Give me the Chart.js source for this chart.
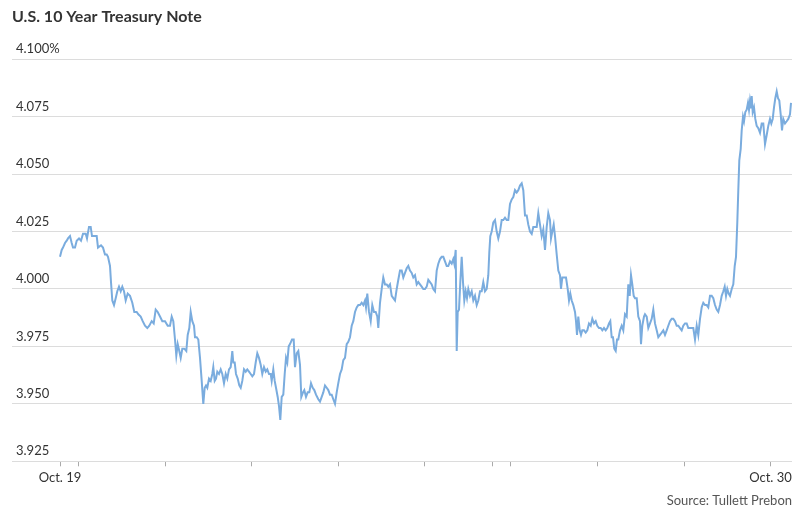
<!DOCTYPE html>
<html>
<head>
<meta charset="utf-8">
<script src="https://cdn.jsdelivr.net/npm/chart.js@4.4.0/dist/chart.umd.min.js"></script>
<style>
body{margin:0;background:#fff;}
#wrap{width:804px;height:513px;}
</style>
</head>
<body>
<div id="wrap"><canvas id="canvas" width="804" height="513"></canvas></div>
<script>
// elapsed time along the axis (chart time units) and the yield at each print
const times=[
0,1.7,3,5,6.7,8,10,11.7,13,15,16.7,19,21,23,25.7,27,29,30.7,32,35,36.7,38,41,43,45,46.7,48,50,51,52.3,54,55.7,57.3,59,60.7,62.3,64,65.7,67.7,70,72.3,74.3,76.7,78.3,80.7,82.7,85,87.3,89.3,91.7,93.7,95.7,97.7,100,102.3,105,107.7,110,111.7,113.3,115,116.3,117.7,119.3,120.7,122.3,124.3,126.3,127.7,129.3,130.7,132.3,134,135,136.7,138.3,140,141.7,143.3,
144.7,146,147.3,149,150.7,152.3,153.3,154.7,156,157.3,159,160.7,162.3,164,165.7,167.3,169,170.7,172.3,173.3,174.7,176,177.7,179.3,180.7,182.3,184,185.7,187.3,189,190.7,192.3,194,195.7,197.3,199,200.7,202.3,204,205.7,207.3,209,210.7,211.7,213.3,214.7,216,217.7,219,220.3,221.7,223.3,224.7,226,227.3,228.7,230,232,233.7,235,236.7,238.3,240,241.3,243,244.3,246,247.7,249.3,251,252.7,254.3,256,258.3,260,261.7,263.3,265,266.7,268.3,270,271.7,273.3,275,276.7,278.3,280,281.7,283.3,285,286.7,
288.3,290,291.7,293.3,295,296.7,298.3,300,301.7,303.3,305,306,307.3,309,310.7,312.3,314,315.7,317.3,318.3,320,321.7,323.3,325,326.7,328.3,330,331.7,333.3,335,336.7,338.3,340,341.7,343.3,345,346.7,348.3,350,351.7,353.3,355,356.7,358.3,360,361.7,363.3,365,366.7,368.3,370,371.7,373.3,375,376.7,378.3,380,381.7,383.3,385,386.7,388.3,390,391.7,393.3,394.3,395.7,396.7,397.7,399,400.3,401.7,403,404.3,405.7,407,408.3,410,411.7,413.3,415,416.7,418.3,420,421.7,423.3,425,426.7,428.3,429.3,430.3,431.7,433.3,435,
436.7,438.3,440,441.7,443.3,445,446.7,448.3,450,451.7,453.3,455,456.7,458.3,460,461.7,463.3,465,466.7,468.3,470,471.7,473.3,475,476.7,478.3,480,481.7,483.3,485,486.7,488.3,490,491,492.3,493.7,495,496.7,498.3,500,501,502.3,504,506,507.7,509,510.3,511.7,513.3,515,516,517,518.3,519.7,521,522.3,524,525.7,527.3,529,530.7,532.3,534,535.7,537.3,539,540.7,542.3,544,545.7,547.3,549,550.3,551.7,553,554.3,555.7,557,558.3,560,561.7,563.3,565,566.7,568.3,569.7,571,572.3,573.7,575,576.7,578.3,580,581,582.3,584,
585,586.7,588.3,590,591.7,593.3,595,596.7,598.3,600,601.7,603.3,605,606.7,608.3,610,611.7,613.3,615,616.7,618.3,620,621.7,623.3,625,626.7,628.3,630,631.7,633.3,635,636.7,638.3,640,641.7,643.3,645,646.7,648.3,650,651.7,653.3,655,656.7,658.3,660,661.7,663.3,664.7,666,667.3,668.7,670,671.7,673.3,674.7,676,677.3,678.3,679.3,680.7,681.7,683,684,685.3,686.7,688,689,690,691,691.7,692.7,694,695.3,696.7,698.3,700,701.7,703.3,705,706.7,708.3,710,711.3,712.7,714,715.3,716.7,718,719.3,720.7,722,723.3,725,726.7,728.3,730,731
];
const yields=[
4.014,4.017,4.018,4.020,4.021,4.022,4.023,4.020,4.018,4.018,4.021,4.022,4.021,4.024,4.024,4.022,4.027,4.027,4.023,4.023,4.023,4.018,4.019,4.018,4.015,4.015,4.014,4.010,4.003,3.995,3.993,3.996,3.999,4.001,3.999,4.001,3.999,3.995,3.998,3.997,3.994,3.990,3.990,3.989,3.988,3.986,3.984,3.983,3.984,3.986,3.985,3.991,3.990,3.988,3.986,3.986,3.984,3.984,3.988,3.986,3.978,3.971,3.976,3.973,3.970,3.974,3.974,3.973,3.980,3.983,3.990,3.986,3.984,3.979,3.979,3.978,3.970,3.960,3.950,
3.957,3.958,3.957,3.961,3.960,3.963,3.966,3.960,3.961,3.964,3.963,3.965,3.963,3.959,3.963,3.961,3.965,3.966,3.973,3.968,3.968,3.963,3.961,3.958,3.957,3.960,3.965,3.964,3.965,3.964,3.963,3.962,3.963,3.968,3.972,3.970,3.967,3.963,3.966,3.964,3.965,3.963,3.963,3.960,3.965,3.960,3.957,3.953,3.949,3.943,3.953,3.954,3.963,3.970,3.968,3.975,3.976,3.978,3.978,3.966,3.972,3.973,3.967,3.953,3.955,3.956,3.953,3.955,3.955,3.959,3.957,3.956,3.954,3.952,3.951,3.953,3.955,3.958,3.957,3.956,3.954,3.954,3.952,3.950,3.955,3.959,3.963,3.965,3.969,3.970,3.976,
3.977,3.979,3.984,3.986,3.990,3.992,3.993,3.993,3.994,3.993,3.995,3.992,3.998,3.990,3.986,3.993,3.990,3.990,3.988,3.983,3.994,4.000,4.005,4.002,4.002,4.001,4.002,3.997,3.996,3.995,4.000,4.004,4.008,4.008,4.005,4.007,4.009,4.010,4.008,4.007,4.005,4.006,4.002,4.003,4.002,4.001,4.000,4.000,4.001,4.004,4.003,4.002,4.000,3.999,4.008,4.011,4.013,4.014,4.014,4.012,4.010,4.010,4.012,4.011,4.013,4.011,4.017,3.973,3.990,3.991,4.003,4.014,4.003,3.995,3.999,3.996,4.000,3.997,3.999,3.995,3.997,3.993,3.995,3.999,3.999,4.003,3.999,4.000,4.006,4.016,4.023,4.025,4.029,4.030,
4.025,4.022,4.025,4.030,4.030,4.031,4.030,4.030,4.037,4.039,4.040,4.043,4.042,4.043,4.045,4.046,4.043,4.032,4.032,4.028,4.025,4.024,4.027,4.027,4.027,4.033,4.028,4.023,4.026,4.017,4.027,4.033,4.030,4.022,4.025,4.028,4.023,4.015,4.008,4.006,4.000,4.005,4.005,4.005,4.000,3.995,3.998,3.995,3.993,3.990,3.986,3.980,3.988,3.982,3.980,3.982,3.982,3.981,3.982,3.985,3.984,3.987,3.985,3.986,3.984,3.983,3.983,3.982,3.983,3.982,3.983,3.985,3.986,3.979,3.979,3.974,3.973,3.978,3.978,3.982,3.984,3.982,3.989,3.988,4.002,3.997,4.006,4.002,3.997,3.996,3.996,3.988,3.986,3.976,3.984,3.988,
3.989,3.988,3.983,3.985,3.987,3.991,3.985,3.982,3.979,3.980,3.981,3.982,3.980,3.982,3.984,3.986,3.987,3.987,3.986,3.984,3.984,3.983,3.982,3.984,3.985,3.985,3.983,3.983,3.983,3.983,3.978,3.984,3.980,3.987,3.992,3.994,3.993,3.993,3.992,3.997,3.997,3.996,3.993,3.991,3.990,3.993,3.997,3.999,4.001,3.997,4.000,3.998,3.997,4.000,4.002,4.010,4.014,4.029,4.043,4.056,4.061,4.069,4.075,4.073,4.077,4.078,4.081,4.078,4.082,4.079,4.084,4.077,4.079,4.074,4.071,4.070,4.068,4.072,4.072,4.063,4.067,4.071,4.074,4.072,4.074,4.079,4.083,4.086,4.083,4.082,4.076,4.069,4.074,4.072,4.073,4.074,4.076,4.081
];
// axis marks
const tickTimes=[0,18.5,105,191.5,278,364.5,432,451,537.5,624,710.5];
const tickLabels=["Oct. 19","","","","","","","","","","Oct. 30"];
const yTicks=[3.925,3.950,3.975,4.000,4.025,4.050,4.075,4.100];

Chart.defaults.font.family="Lato";
Chart.defaults.color="#333";

const ctx=document.getElementById("canvas");
new Chart(ctx,{
    type:"line",
    data:{
        datasets:[{
            label:"U.S. 10 Year Treasury Note",
            data:times.map((t,i)=>({x:t,y:yields[i]})),
            borderColor:"#7aacde",
            borderWidth:2,
            pointRadius:0,
            tension:0,
            fill:false
        }]
    },
    options:{
        responsive:false,
        animation:false,
        layout:{
            padding:{left:12,right:12,top:0,bottom:0}
        },
        plugins:{
            legend:{display:false},
            tooltip:{enabled:false},
            title:{
                display:true,
                text:"U.S. 10 Year Treasury Note",
                align:"start",
                color:"#333",
                font:{size:16,weight:"bold"},
                padding:{top:7,bottom:33}
            },
            subtitle:{
                display:true,
                position:"bottom",
                text:"Source: Tullett Prebon",
                align:"end",
                color:"#555",
                font:{size:13},
                padding:{top:3.5,bottom:4}
            }
        },
        scales:{
            x:{
                type:"linear",
                min:-48,
                max:732,
                border:{display:false},
                grid:{
                    drawOnChartArea:false,
                    drawTicks:true,
                    tickLength:5,
                    tickColor:"#aaa"
                },
                afterBuildTicks:s=>{
                    s.ticks=tickTimes.map(v=>({value:v}));
                },
                afterFit:s=>{
                    s.paddingLeft=0;
                    s.paddingRight=0;
                },
                ticks:{
                    autoSkip:false,
                    maxRotation:0,
                    padding:4,
                    font:{size:13},
                    color:"#333",
                    callback:(v,i)=>tickLabels[i]
                }
            },
            y:{
                min:3.925,
                max:4.100,
                border:{display:false},
                grid:{
                    color:"#dcdcdc",
                    drawTicks:false
                },
                afterBuildTicks:s=>{
                    s.ticks=yTicks.map(v=>({value:v}));
                },
                afterFit:s=>{
                    s.width=0;
                    s.paddingTop=0;
                    s.paddingBottom=0;
                },
                ticks:{
                    mirror:true,
                    padding:4,
                    labelOffset:-10,
                    font:{size:13},
                    color:"#333",
                    callback:v=>Math.abs(v-4.1)<1e-6?"4.100%":v.toFixed(3)
                }
            }
        }
    }
});
</script>
</body>
</html>
